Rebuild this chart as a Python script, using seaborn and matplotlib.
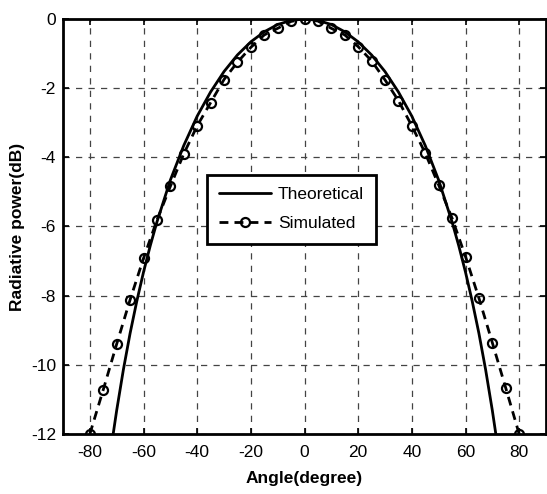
import numpy as np
import pandas as pd
import matplotlib
matplotlib.use("Agg")
import matplotlib.pyplot as plt
import seaborn as sns

# Simulated radiation pattern, sampled every 5 degrees
sim_angle = [-80, -75, -70, -65, -60, -55, -50, -45, -40, -35, -30, -25, -20,
             -15, -10, -5, 0, 5, 10, 15, 20, 25, 30, 35, 40, 45, 50, 55, 60,
             65, 70, 75, 80]
sim_power = [-12.0, -10.72, -9.40, -8.12, -6.92, -5.82, -4.84, -3.90, -3.09,
             -2.42, -1.75, -1.25, -0.82, -0.46, -0.27, -0.07, 0.0, -0.06,
             -0.27, -0.46, -0.80, -1.21, -1.76, -2.36, -3.09, -3.88, -4.80,
             -5.76, -6.87, -8.07, -9.36, -10.67, -12.0]

# Theoretical radiation pattern
theo_angle = [-71.3, -70, -67.5, -65, -62.5, -60, -57.5, -55, -50, -45, -40,
              -35, -30, -25, -20, -15, -10, -5, 0, 5, 10, 15, 20, 25, 30,
              35, 40, 45, 50, 55, 57.5, 60, 62.5, 65, 67.5, 70, 71.3]
theo_power = [-12.0, -11.32, -10.14, -9.09, -8.16, -7.32, -6.56, -5.87,
              -4.66, -3.66, -2.81, -2.11, -1.52, -1.04, -0.66, -0.37, -0.16,
              -0.04, 0.0, -0.04, -0.16, -0.37, -0.66, -1.04, -1.52, -2.11,
              -2.81, -3.66, -4.66, -5.87, -6.56, -7.32, -8.16, -9.09,
              -10.14, -11.32, -12.0]

x_ticks = [-80, -60, -40, -20, 0, 20, 40, 60, 80]
y_ticks = [0, -2, -4, -6, -8, -10, -12]

theo_df = pd.DataFrame({"angle": theo_angle, "power": theo_power})
sim_df = pd.DataFrame({"angle": sim_angle, "power": sim_power})

sns.set_theme(style="white")
plt.rcParams["font.family"] = ["Liberation Sans", "DejaVu Sans"]
plt.rcParams["xtick.direction"] = "in"
plt.rcParams["ytick.direction"] = "in"
plt.rcParams["text.color"] = "black"
plt.rcParams["axes.labelcolor"] = "black"
plt.rcParams["xtick.color"] = "black"
plt.rcParams["ytick.color"] = "black"

fig = plt.figure(figsize=(5.47, 4.94), dpi=100)
ax = fig.add_axes([63 / 547, 60 / 494, 483 / 547, 415 / 494])

sns.lineplot(data=theo_df, x="angle", y="power", ax=ax, color="black",
             linewidth=2.0, sort=False, label="Theoretical")
sns.lineplot(data=sim_df, x="angle", y="power", ax=ax, color="black",
             linewidth=2.0, linestyle=(0, (3.2, 2.2)), marker="o",
             markersize=6.5, markerfacecolor="none",
             markeredgecolor="black", markeredgewidth=1.6, sort=False,
             label="Simulated")

ax.set_xlim(-90, 90)
ax.set_ylim(-12, 0)
ax.set_xticks(x_ticks)
ax.set_yticks(y_ticks)
ax.set_xticklabels([str(v) for v in x_ticks], fontsize=12.5)
ax.set_yticklabels([str(v) for v in y_ticks], fontsize=12.5)
ax.tick_params(axis="both", which="both", direction="in", length=4,
               width=1.2, color="black", top=True, right=True,
               bottom=True, left=True, labelcolor="black")
ax.tick_params(axis="x", pad=8)
ax.tick_params(axis="y", pad=5)

ax.grid(True, color="#444444", linestyle=(0, (5, 5)), linewidth=0.9)
ax.set_axisbelow(True)

for side in ["left", "right", "top", "bottom"]:
    ax.spines[side].set_visible(True)
    ax.spines[side].set_color("black")
    ax.spines[side].set_linewidth(2.0)

ax.set_xlabel("Angle(degree)", fontsize=12.5, fontweight="bold", labelpad=8,
              color="black")
ax.set_ylabel("Radiative power(dB)", fontsize=12.5, fontweight="bold",
              labelpad=4, color="black")

leg = ax.legend(loc="upper left", bbox_to_anchor=(0.298, 0.624),
                fontsize=12.5, frameon=True, fancybox=False, framealpha=1,
                edgecolor="black", handlelength=3.0, handletextpad=0.4,
                borderpad=0.7, labelspacing=0.8, borderaxespad=0)
leg.get_frame().set_linewidth(2.0)
for txt in leg.get_texts():
    txt.set_color("black")

fig.savefig("out.png", dpi=100)
